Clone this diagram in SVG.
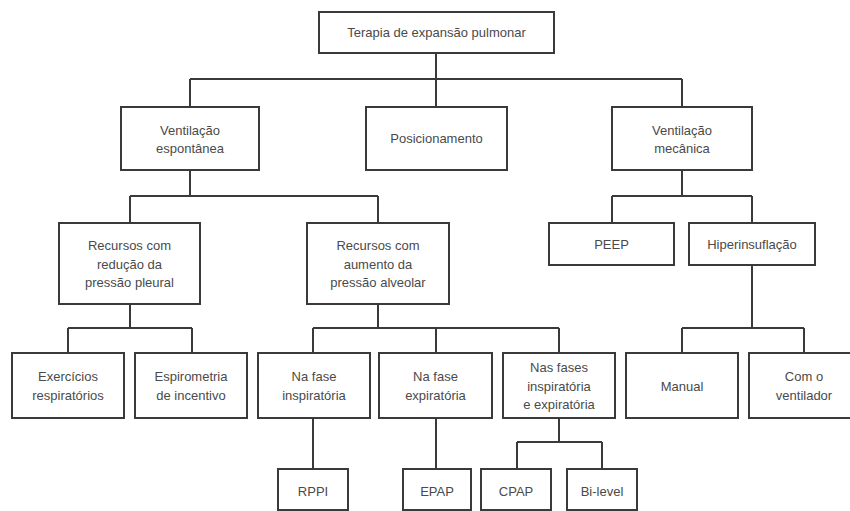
<svg xmlns="http://www.w3.org/2000/svg" width="850" height="511" viewBox="0 0 850 511">
<style>
.b{fill:#fff;stroke:#3a3a3a;stroke-width:2}
.t{font-family:"Liberation Sans",Arial,sans-serif;font-size:13px;fill:#4a4a4a;text-anchor:middle}
.c{fill:none;stroke:#3a3a3a;stroke-width:2}
</style>
<rect width="850" height="511" fill="#fff"/>
<g id="connectors">
<path class="c" d="M436 53V107M190 79H682M190 79V107M682 79V107"/>
<path class="c" d="M190 170V196M130 196H378M130 196V223M378 196V223"/>
<path class="c" d="M682 170V196M612 196H752M612 196V223M752 196V223"/>
<path class="c" d="M130 304V328M68 328H192M68 328V353M192 328V353"/>
<path class="c" d="M378 304V328M313 328H559M313 328V353M436 328V353M559 328V353"/>
<path class="c" d="M313 418V469M436 418V469"/>
<path class="c" d="M559 418V442M517 442H602M517 442V469M602 442V469"/>
<path class="c" d="M752 265V328M682 328H804M682 328V353M804 328V353"/>
</g>
<g id="root"><rect class="b" x="319" y="12" width="235" height="41"/><text class="t" x="436.5" y="37">Terapia de expansão pulmonar</text></g>
<g id="vent-espontanea"><rect class="b" x="121" y="107" width="138" height="63"/><text class="t" x="190" y="135">Ventilação</text><text class="t" x="190" y="153">espontânea</text></g>
<g id="posicionamento"><rect class="b" x="366" y="107" width="141" height="63"/><text class="t" x="436.5" y="143">Posicionamento</text></g>
<g id="vent-mecanica"><rect class="b" x="612" y="107" width="140" height="63"/><text class="t" x="682" y="135">Ventilação</text><text class="t" x="682" y="153">mecânica</text></g>
<g id="recursos-reducao"><rect class="b" x="59" y="223" width="141" height="81"/><text class="t" x="129.5" y="250">Recursos com</text><text class="t" x="129.5" y="269">redução da</text><text class="t" x="129.5" y="287">pressão pleural</text></g>
<g id="recursos-aumento"><rect class="b" x="307" y="223" width="142" height="81"/><text class="t" x="378" y="250">Recursos com</text><text class="t" x="378" y="269">aumento da</text><text class="t" x="378" y="287">pressão alveolar</text></g>
<g id="peep"><rect class="b" x="549" y="223" width="125" height="42"/><text class="t" x="611.5" y="249">PEEP</text></g>
<g id="hiperinsuflacao"><rect class="b" x="689" y="223" width="126" height="42"/><text class="t" x="752" y="249">Hiperinsuflação</text></g>
<g id="exercicios"><rect class="b" x="12" y="353" width="112" height="65"/><text class="t" x="68" y="381">Exercícios</text><text class="t" x="68" y="400">respiratórios</text></g>
<g id="espirometria"><rect class="b" x="135" y="353" width="112" height="65"/><text class="t" x="191" y="381">Espirometria</text><text class="t" x="191" y="400">de incentivo</text></g>
<g id="fase-inspiratoria"><rect class="b" x="258" y="353" width="112" height="65"/><text class="t" x="314" y="381">Na fase</text><text class="t" x="314" y="400">inspiratória</text></g>
<g id="fase-expiratoria"><rect class="b" x="379" y="353" width="113" height="65"/><text class="t" x="435.5" y="381">Na fase</text><text class="t" x="435.5" y="400">expiratória</text></g>
<g id="fases-ambas"><rect class="b" x="503" y="353" width="112" height="65"/><text class="t" x="559" y="372">Nas fases</text><text class="t" x="559" y="391">inspiratória</text><text class="t" x="559" y="409">e expiratória</text></g>
<g id="manual"><rect class="b" x="626" y="353" width="112" height="65"/><text class="t" x="682" y="391">Manual</text></g>
<g id="com-ventilador"><rect class="b" x="749" y="353" width="110" height="65"/><text class="t" x="804" y="381">Com o</text><text class="t" x="804" y="400">ventilador</text></g>
<g id="rppi"><rect class="b" x="278" y="469" width="70" height="41"/><text class="t" x="313" y="496">RPPI</text></g>
<g id="epap"><rect class="b" x="403" y="469" width="68" height="41"/><text class="t" x="437" y="496">EPAP</text></g>
<g id="cpap"><rect class="b" x="481" y="469" width="70" height="41"/><text class="t" x="516" y="496">CPAP</text></g>
<g id="bilevel"><rect class="b" x="567" y="469" width="70" height="41"/><text class="t" x="602" y="496">Bi-level</text></g>
</svg>
